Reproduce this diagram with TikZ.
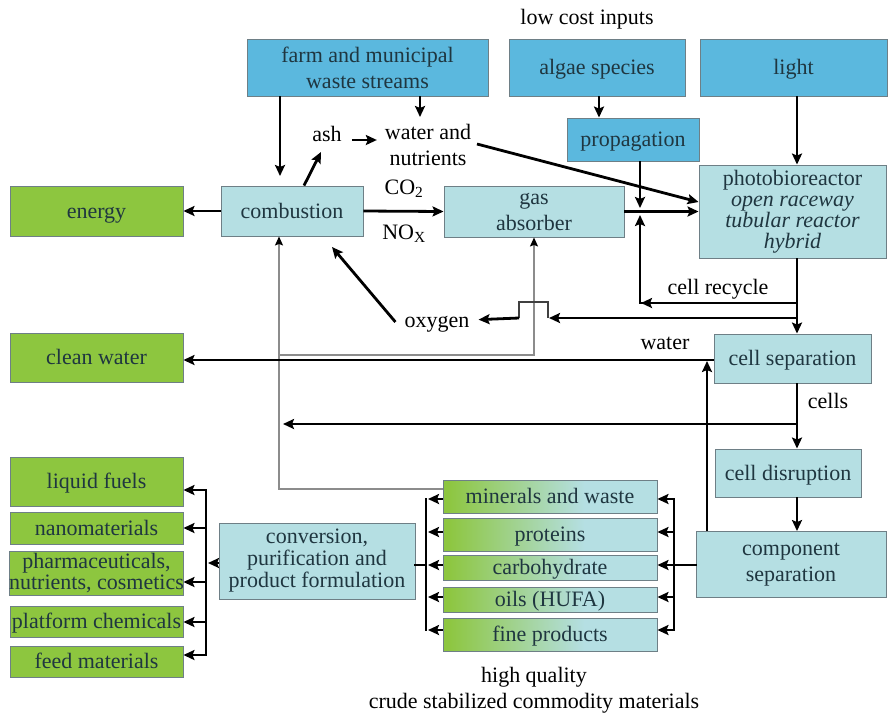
\documentclass[tikz,border=0pt]{standalone}
\usepackage{fontspec}
\setmainfont{Liberation Serif}
\usetikzlibrary{arrows.meta,calc}
\definecolor{dblue}{HTML}{5BB8DE}
\definecolor{lblue}{HTML}{B5DFE3}
\definecolor{grn}{HTML}{8DC63F}
\definecolor{bord}{HTML}{6E7F86}
\definecolor{btxt}{HTML}{1F3640}
\definecolor{gline}{HTML}{8C8C8C}
\pgfdeclarehorizontalshading{gbshade}{100bp}{color(0bp)=(grn); color(26bp)=(grn); color(58bp)=(lblue); color(100bp)=(lblue)}
\newcommand\dfont{\fontsize{22}{26}\selectfont}
\newcommand\dfontb{\fontsize{22}{21}\selectfont}
\newcommand\dfontc{\fontsize{22}{22}\selectfont}
\begin{document}
\begin{tikzpicture}[x=1pt,y=-1pt,
 box/.style={draw=bord, line width=0.9pt, inner sep=0pt, align=center, text=btxt, font=\dfont},
 one/.style={text height=15pt, text depth=1pt},
 bbox/.style={box, fill=dblue},
 lbox/.style={box, fill=lblue},
 gbox/.style={box, fill=grn, minimum width=173pt},
 sbox/.style={box, one, shading=gbshade, minimum width=214pt},
 lab/.style={inner sep=0pt, align=center, font=\dfont, text=black},
 arr/.style={line width=2.8pt, -{Stealth[length=11pt,width=10pt,inset=2pt]}},
 thk/.style={line width=2.8pt, line cap=rect},
 hop/.style={line width=1.1pt, draw=black!75},
 garr/.style={line width=1.2pt, draw=gline, -{Stealth[length=9pt,width=8pt,inset=1.5pt,color=black]}},
]
\useasboundingbox (0,0) rectangle (889,716);

% ---- top boxes
\node[bbox, minimum width=241pt, minimum height=57pt] (farm) at (367.5,67.5) {farm and municipal\\waste streams};
\node[bbox, one, minimum width=176pt, minimum height=57pt] (algae) at (597,67.5) {algae species};
\node[bbox, one, minimum width=187pt, minimum height=57pt] (light) at (793.5,67.5) {light};
\node[bbox, one, minimum width=132pt, minimum height=43pt] (prop) at (633,139.5) {propagation};

% ---- light blue boxes
\node[lbox, minimum width=187pt, minimum height=93pt, font=\dfontb] (photo) at (792.5,211.5) {photobioreactor\\\textit{open raceway}\\\textit{tubular reactor}\\\textit{hybrid}};
\node[lbox, one, minimum width=142pt, minimum height=50pt] (comb) at (292,211) {combustion};
\node[lbox, minimum width=180pt, minimum height=51pt] (gas) at (534,211.5) {gas\\absorber};
\node[lbox, one, minimum width=157pt, minimum height=49pt] (cellsep) at (792.5,358.5) {cell separation};
\node[lbox, one, minimum width=146pt, minimum height=48pt] (celldis) at (788,473) {cell disruption};
\node[lbox, minimum width=190pt, minimum height=66pt] (compsep) at (791,564.5) {component\\separation};
\node[lbox, minimum width=196pt, minimum height=76pt, font=\dfontc] (conv) at (317,561) {conversion,\\purification and\\product formulation};

% ---- green boxes
\node[gbox, one, minimum height=50pt] (energy) at (96.5,211) {energy};
\node[gbox, one, minimum height=49pt] (cleanw) at (96.5,357.5) {clean water};
\node[gbox, one, minimum height=49pt] (liq) at (96.5,481.5) {liquid fuels};
\node[gbox, one, minimum height=32pt] (nano) at (96.5,528) {nanomaterials};
\node[gbox, minimum height=44pt, font=\dfontb] (pharm) at (96.5,573) {pharmaceuticals,\\nutrients, cosmetics};
\node[gbox, one, minimum height=31pt] (plat) at (96.5,621.5) {platform chemicals};
\node[gbox, one, minimum height=31pt] (feed) at (96.5,661.5) {feed materials};

% ---- gradient boxes
\node[sbox, minimum height=33pt] (mine) at (550,496.5) {minerals and waste};
\node[sbox, minimum height=33pt] (prot) at (550,534.5) {proteins};
\node[sbox, minimum height=25pt] (carb) at (550,567.5) {carbohydrate};
\node[sbox, minimum height=25pt] (oils) at (550,599.5) {oils (HUFA)};
\node[sbox, minimum height=33pt] (fine) at (550,634.5) {fine products};

% ---- labels
\node[lab, one] (lci) at (587,17) {low cost inputs};
\node[lab, one] (ash) at (327,134) {ash};
\node[lab] (wn) at (428,145) {water and\\nutrients};
\node[lab] (co2) at (404,189) {CO\textsubscript{2}};
\node[lab] (nox) at (404,234) {NO\textsubscript{X}};
\node[lab, one] (oxy) at (437,320) {oxygen};
\node[lab, one] (rec) at (718,287) {cell recycle};
\node[lab, one] (wat) at (665,342) {water};
\node[lab, one] (cel) at (828,401) {cells};
\node[lab] (hq) at (534,690) {high quality\\crude stabilized commodity materials};

% ---- gray connectors
\draw[garr] (mine.west |- 0,489) -- (279,489) -- (comb.south -| 279,0);
\draw[garr] (279,355) -- (534,355) -- (gas.south -| 534,0);

% ---- top connectors
\draw[arr] (farm.south -| 280,0) -- (280,176);
\draw[arr] (farm.south -| 420,0) -- (420,117);
\draw[arr] (algae.south -| 599,0) -- (prop.north -| 599,0);
\draw[arr] (light.south -| 797,0) -- (photo.north -| 797,0);
\draw[arr] (comb.north -| 304,0) -- (321,152);
\draw[arr] ($(ash.east)+(10,6)$) -- ++(25,0);
\draw[arr] (477,144) -- (photo.west |- 0,202);
\draw[arr] (comb.west) -- (energy.east);
\draw[arr] (comb.east) -- (gas.west);
\draw[arr] (gas.east) -- (photo.west |- gas.east);
\draw[arr] (prop.south -| 640,0) -- (640,208);
\draw[arr] (photo.south -| 797,0) -- (cellsep.north -| 797,0);
\draw[arr] (797,303) -- (640,303) -- (640,215);
\draw[arr] (700,303) -- (641,303);

% ---- oxygen
\draw[arr] (797,318) -- (549,318);
\draw[hop] (548,318) -- (548,302) -- (519,302) -- (519,318);
\draw[arr, shorten >=9pt] (519,318) -- (oxy.east);
\draw[arr] ($(oxy.west)+(-9,2)$) -- (332,247);

% ---- water, cells
\draw[arr] (cellsep.west |- 0,360) -- (cleanw.east |- 0,360);
\draw[arr] (compsep.north -| 707,0) -- (707,361);
\draw[arr] (cellsep.south -| 797,0) -- (celldis.north -| 797,0);
\draw[arr] (797,424) -- (283,424);
\draw[arr] (celldis.south -| 797,0) -- (compsep.north -| 797,0);

% ---- component separation to products
\draw[thk] (compsep.west |- 0,565) -- (674,565);
\draw[thk] (674,499) -- (674,630);
\foreach \yy in {499,532,565,597,630} {\draw[arr] (674,\yy) -- (mine.east |- 0,\yy);}

% ---- products to conversion
\draw[thk] (426,499) -- (426,630);
\draw[thk] (conv.east |- 0,565) -- (426,565);
\foreach \yy in {499,532,565,597,630} {\draw[arr] (mine.west |- 0,\yy) -- (428,\yy);}

% ---- conversion to outputs
\draw[thk] (206,490) -- (206,655);
\draw[arr] (conv.west |- 0,563) -- (208,563);
\foreach \yy in {490,528,582,622,655} {\draw[arr] (206,\yy) -- (liq.east |- 0,\yy);}
\end{tikzpicture}
\end{document}
